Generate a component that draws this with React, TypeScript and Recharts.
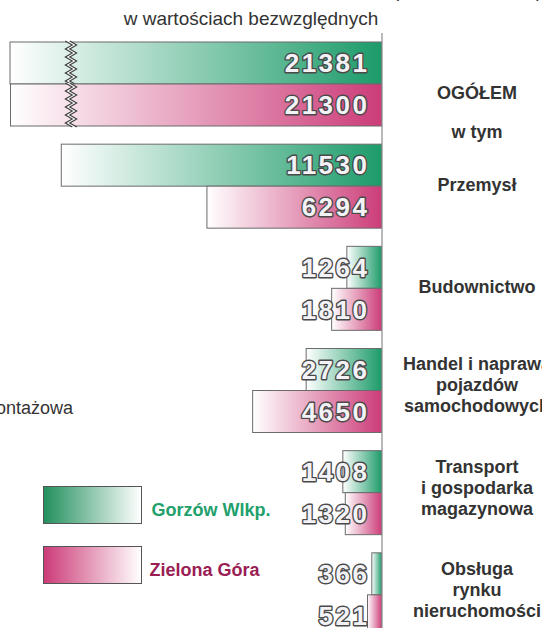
import { BarChart, Bar, XAxis, YAxis, Legend, LabelList } from 'recharts'

const CATEGORIES = [
  'OGÓŁEM',
  'Przemysł',
  'Budownictwo',
  'Handel i naprawa pojazdów samochodowych',
  'Transport i gospodarka magazynowa',
  'Obsługa rynku nieruchomości',
]
const LABEL_LINES = [
  ['OGÓŁEM'],
  ['Przemysł'],
  ['Budownictwo'],
  ['Handel i naprawa', 'pojazdów', 'samochodowych'],
  ['Transport', 'i gospodarka', 'magazynowa'],
  ['Obsługa', 'rynku', 'nieruchomości'],
]
const GORZOW = [21381, 11530, 1264, 2726, 1408, 366]
const ZIELONA = [21300, 6294, 1810, 4650, 1320, 521]
const SERIES_NAMES = ['Gorzów Wlkp.', 'Zielona Góra']

// axis max and the value where the long bars are broken
const X_MAX = 13733
const BREAK_VALUE = 11180
const OVER_SQUEEZE = 0.215

const data = CATEGORIES.map((name, i) => ({ name, gorzow: GORZOW[i], zielona: ZIELONA[i] }))

const GREEN = '#1c9b69'
const PINK = '#cc3c78'
const OUTLINE = '#6b6b6b'
const TEXT = '#333333'
const FONT = '"Liberation Sans", Arial, sans-serif'

function zigzag(cx: number, top: number, bottom: number, shift: number) {
  const pts: string[] = []
  let i = 0
  for (let yy = top - 1; yy <= bottom + 2; yy += 4) {
    pts.push(`${cx + shift + (i % 2 ? 3.5 : -3.5)},${yy}`)
    i++
  }
  return pts
}

function BrokenBar(props: any) {
  const { x, y, width, height, payload, dataKey, fill } = props
  const v = payload[dataKey]
  const right = Math.max(x, x + width)
  let left = Math.min(x, x + width)
  const pxPerUnit = (right - left) / v
  const broken = v > X_MAX
  if (broken) {
    left = right - (BREAK_VALUE + (v - BREAK_VALUE) * OVER_SQUEEZE) * pxPerUnit
  }
  const breakX = right - BREAK_VALUE * pxPerUnit
  const l = zigzag(breakX, y, y + height, -2.2)
  const r = zigzag(breakX, y, y + height, 2.2)
  return (
    <g>
      <rect x={left} y={y} width={right - left} height={height} fill={fill} stroke={OUTLINE} strokeWidth={1} />
      {broken && (
        <g>
          <polygon points={[...l, ...r.slice().reverse()].join(' ')} fill="#fff" stroke="none" />
          <polyline points={l.join(' ')} fill="none" stroke="#3a3a3a" strokeWidth={1.1} />
          <polyline points={r.join(' ')} fill="none" stroke="#3a3a3a" strokeWidth={1.1} />
        </g>
      )}
    </g>
  )
}

function NumLabel(props: any) {
  const { x, y, width, height, value } = props
  const right = Math.max(x, x + width)
  return (
    <text
      x={right - 12.5}
      y={y + height / 2 + 9.3}
      textAnchor="end"
      fontFamily={FONT}
      fontWeight="bold"
      fontSize={26}
      letterSpacing={2.5}
      fill="#f3f3f7"
      stroke="#4a4a4a"
      strokeWidth={2.8}
      strokeLinejoin="round"
      paintOrder="stroke"
    >
      {value}
    </text>
  )
}

function CatTick(props: any) {
  const { x, y, payload } = props
  const idx = CATEGORIES.indexOf(payload.value)
  const lines = LABEL_LINES[idx] || []
  const cx = x + 95
  const shift = idx === 0 ? 9 : lines.length > 1 ? -5.5 : -2
  const n = lines.length
  return (
    <g>
      {lines.map((s, i) => (
        <text
          key={i}
          x={cx}
          y={y + shift + (i - (n - 1) / 2) * 21 + 6.4}
          textAnchor="middle"
          fontFamily={FONT}
          fontWeight="bold"
          fontSize={18}
          fill={TEXT}
        >
          {s}
        </text>
      ))}
      {idx === 0 && (
        <text x={cx} y={y + 47.5 + 6.4} textAnchor="middle" fontFamily={FONT} fontWeight="bold" fontSize={18} fill={TEXT}>
          w tym
        </text>
      )}
    </g>
  )
}

function LegendBox() {
  const rows = [
    { name: SERIES_NAMES[0], from: '#23905e', color: '#22a06c', top: 0, textLeft: 108.5 },
    { name: SERIES_NAMES[1], from: '#cc3c78', color: '#9a1d55', top: 59.5, textLeft: 106.5 },
  ]
  return (
    <div style={{ position: 'relative', width: 240, height: 100 }}>
      {rows.map((r) => (
        <div key={r.name}>
          <div
            style={{
              position: 'absolute',
              left: 0,
              top: r.top,
              width: 97,
              height: 36,
              border: '1px solid #555',
              background: `linear-gradient(to right, ${r.from}, #ffffff)`,
            }}
          />
          <div
            style={{
              position: 'absolute',
              left: r.textLeft,
              top: r.top + 24 - 10,
              lineHeight: '20px',
              fontFamily: FONT,
              fontWeight: 'bold',
              fontSize: 18,
              color: r.color,
              whiteSpace: 'nowrap',
            }}
          >
            {r.name}
          </div>
        </div>
      ))}
    </div>
  )
}

export default function App() {
  return (
    <div style={{ position: 'absolute', left: 0, top: 0, width: 542, height: 628, overflow: 'hidden', background: '#fff' }}>
      <BarChart
        width={542}
        height={660}
        data={data}
        layout="vertical"
        margin={{ top: 33, right: 0, bottom: 14, left: 0 }}
        barGap={0}
        barSize={42}
      >
        <defs>
          <linearGradient id="gGreen" x1="0" y1="0" x2="1" y2="0">
            <stop offset="0%" stopColor="#ffffff" />
            <stop offset="100%" stopColor={GREEN} />
          </linearGradient>
          <linearGradient id="gPink" x1="0" y1="0" x2="1" y2="0">
            <stop offset="0%" stopColor="#ffffff" />
            <stop offset="100%" stopColor={PINK} />
          </linearGradient>
        </defs>
        <XAxis type="number" hide reversed domain={[0, X_MAX]} allowDataOverflow />
        <YAxis
          type="category"
          dataKey="name"
          orientation="right"
          width={160}
          interval={0}
          tickLine={false}
          tickSize={0}
          tickMargin={0}
          axisLine={{ stroke: '#8a8a8a', strokeWidth: 1.2 }}
          tick={<CatTick />}
        />
        <Legend
          layout="horizontal"
          verticalAlign="middle"
          align="center"
          wrapperStyle={{ left: 43, top: 486, width: 240, height: 100 }}
          content={() => <LegendBox />}
        />
        <Bar
          dataKey="gorzow"
          name={SERIES_NAMES[0]}
          fill="url(#gGreen)"
          isAnimationActive={false}
          shape={(p: any) => <BrokenBar {...p} dataKey="gorzow" />}
        >
          <LabelList dataKey="gorzow" content={(p: any) => <NumLabel {...p} />} />
        </Bar>
        <Bar
          dataKey="zielona"
          name={SERIES_NAMES[1]}
          fill="url(#gPink)"
          isAnimationActive={false}
          shape={(p: any) => <BrokenBar {...p} dataKey="zielona" />}
        >
          <LabelList dataKey="zielona" content={(p: any) => <NumLabel {...p} />} />
        </Bar>
      </BarChart>
      <svg width={542} height={628} style={{ position: 'absolute', left: 0, top: 0, pointerEvents: 'none' }}>
        <text x={251} y={24.5} textAnchor="middle" fontFamily={FONT} fontSize={19} fill={TEXT}>
          w wartościach bezwzględnych
        </text>
        <text x={393} y={-3.5} fontFamily={FONT} fontSize={19} fill={TEXT}>(</text>
        <text x={536} y={-3.5} fontFamily={FONT} fontSize={19} fill={TEXT}>)</text>
        <text x={73} y={413.5} textAnchor="end" fontFamily={FONT} fontSize={18} fill={TEXT}>
          produkcja budowlano-montażowa
        </text>
      </svg>
    </div>
  )
}
